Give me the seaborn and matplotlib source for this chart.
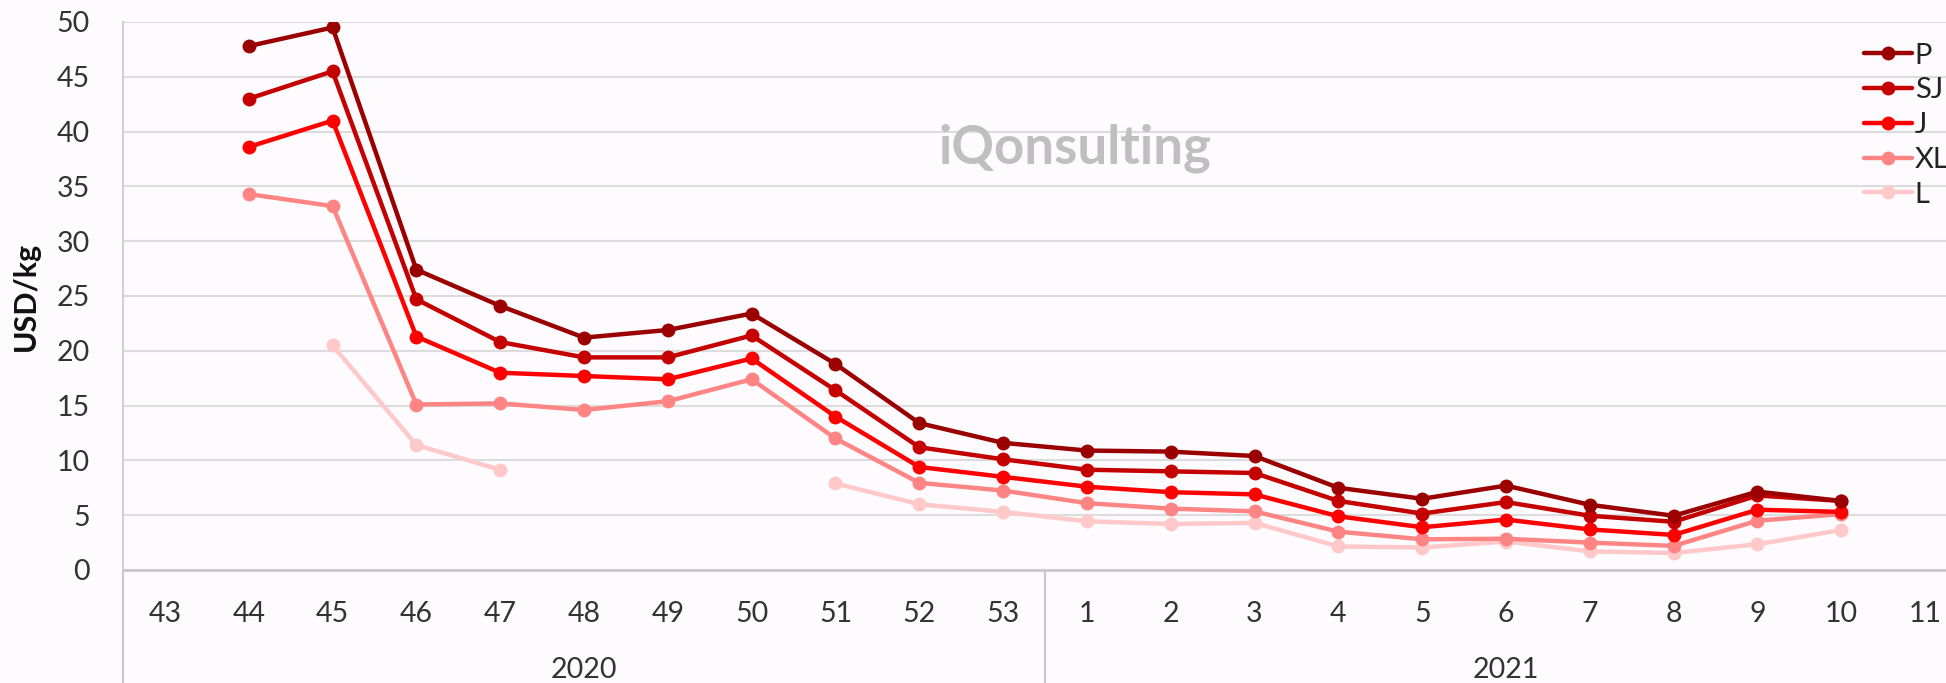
import numpy as np
import pandas as pd
import matplotlib.pyplot as plt
from matplotlib.lines import Line2D
import seaborn as sns

sns.set_theme(style="whitegrid")
plt.rcParams['font.family'] = ['Lato', 'DejaVu Sans']

# week labels (2020: 43-53, 2021: 1-11)
weeks = ['43', '44', '45', '46', '47', '48', '49', '50', '51', '52', '53',
         '1', '2', '3', '4', '5', '6', '7', '8', '9', '10', '11']
years = ['2020', '2021']
grades = ['P', 'SJ', 'J', 'XL', 'L']
nan = np.nan

P = [nan, 47.8, 49.5, 27.4, 24.1, 21.2, 21.9, 23.4, 18.8, 13.4, 11.6,
     10.9, 10.8, 10.4, 7.5, 6.5, 7.7, 5.95, 4.95, 7.15, 6.3, nan]
SJ = [nan, 43.0, 45.5, 24.7, 20.8, 19.4, 19.4, 21.4, 16.4, 11.2, 10.1,
      9.15, 9.0, 8.85, 6.3, 5.15, 6.2, 4.95, 4.4, 6.8, 6.3, nan]
J = [nan, 38.6, 41.0, 21.3, 18.0, 17.7, 17.4, 19.3, 14.0, 9.4, 8.5,
     7.6, 7.1, 6.9, 4.9, 3.9, 4.6, 3.7, 3.2, 5.5, 5.3, nan]
XL = [nan, 34.3, 33.2, 15.1, 15.2, 14.6, 15.4, 17.4, 12.0, 7.95, 7.25,
      6.1, 5.6, 5.35, 3.5, 2.8, 2.85, 2.5, 2.2, 4.5, 5.1, nan]
L = [nan, nan, 20.5, 11.4, 9.15, nan, nan, nan, 7.9, 6.0, 5.3,
     4.45, 4.2, 4.3, 2.15, 2.05, 2.6, 1.7, 1.55, 2.35, 3.65, nan]

colors = {'P': '#9b0000', 'SJ': '#c40000', 'J': '#ff0000',
          'XL': '#ff8585', 'L': '#ffc9c9'}

# long format, with a segment id so gaps are not bridged
rows = []
for g, vals in zip(grades, [P, SJ, J, XL, L]):
    seg = 0
    prev = False
    for i, v in enumerate(vals):
        if np.isnan(v):
            if prev:
                seg += 1
            prev = False
            continue
        rows.append({'pos': i, 'value': v, 'grade': g, 'seg': f'{g}{seg}'})
        prev = True
df = pd.DataFrame(rows)

bg = '#fdfbfd'
fig = plt.figure(figsize=(19.46, 6.83), dpi=100, facecolor=bg)
ax = fig.add_axes([123 / 1946, 113 / 683, 1844 / 1946, 548 / 683])
ax.set_facecolor(bg)

sns.lineplot(data=df, x='pos', y='value', hue='grade', units='seg',
             estimator=None, palette=colors, hue_order=grades[::-1],
             marker='o', markersize=10, markeredgewidth=0, linewidth=3.2,
             sort=False, legend=False, ax=ax)

ax.set_xlim(-0.5, len(weeks) - 0.5)
ax.set_ylim(0, 50)
ax.set_yticks(range(0, 51, 5))
ax.set_xticks(range(len(weeks)))
ax.set_xticklabels(weeks)
ax.tick_params(axis='both', labelsize=20.5, colors='#333333', length=0)
ax.tick_params(axis='x', pad=22)
ax.tick_params(axis='y', pad=24)
ax.set_xlabel('')
ax.set_ylabel('USD/kg', fontsize=22, fontweight='bold', color='#111111', labelpad=12)

ax.grid(axis='x', visible=False)
ax.grid(axis='y', color='#dcdcdc', linewidth=1.5)
for s in ['top', 'right']:
    ax.spines[s].set_visible(False)
ax.spines['left'].set_color('#d0d0d0')
ax.spines['left'].set_linewidth(1.5)
ax.spines['bottom'].set_color('#c8c8c8')
ax.spines['bottom'].set_linewidth(2)

# year group labels and separators below the axis
trans = ax.get_xaxis_transform()
for x in [-0.5, 10.5, 21.5]:
    ax.plot([x, x], [0, -0.25], transform=trans, color='#c8c8c8',
            linewidth=1.5, clip_on=False)
ax.text(5, -0.182, years[0], transform=trans, ha='center', va='center',
        fontsize=20.5, color='#333333')
ax.text(16, -0.182, years[1], transform=trans, ha='center', va='center',
        fontsize=20.5, color='#333333')

# watermark
ax.text(0.516, 0.77, 'iQonsulting', transform=ax.transAxes, ha='center',
        va='center', fontsize=38, fontweight='bold', color='#bfbfbf',
        family=['Lato', 'DejaVu Sans'])

handles = [Line2D([0], [0], color=colors[g], marker='o', markersize=10,
                  markeredgewidth=0, linewidth=3.2) for g in grades]
fig.legend(handles, grades, loc='upper left',
           bbox_to_anchor=(1849 / 1946, 1 - 28 / 683), frameon=False,
           fontsize=21, handlelength=1.65, handletextpad=0.1,
           labelspacing=0.3, borderpad=0, labelcolor='#222222')

fig.savefig('out.png', dpi=100, facecolor=bg)
